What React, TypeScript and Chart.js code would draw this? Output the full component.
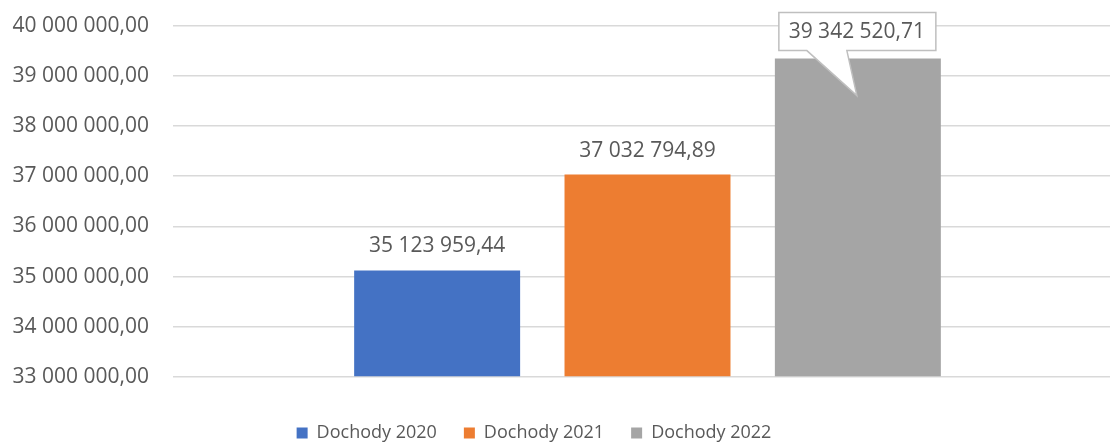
import React, { useEffect, useRef } from "react";
import { Chart, registerables } from "chart.js";

Chart.register(...registerables);

const categories = [""];
const seriesNames = ["Dochody 2020", "Dochody 2021", "Dochody 2022"];
const seriesValues = [35123959.44, 37032794.89, 39342520.71];
const seriesColors = ["#4472C4", "#ED7D31", "#A5A5A5"];
const yMin = 33000000;
const yMax = 40000000;
const yStep = 1000000;

const FONT = "'Open Sans', 'Noto Sans', sans-serif";
const TEXT = "#595959";

function fmt(v: number): string {
  const fixed = v.toFixed(2);
  const [intPart, dec] = fixed.split(".");
  const grouped = intPart.replace(/\B(?=(\d{3})+(?!\d))/g, " ");
  return grouped + "," + dec;
}

const labelPlugin = {
  id: "valueLabels",
  afterDatasetsDraw(chart: any) {
    const ctx = chart.ctx;
    ctx.save();
    ctx.font = `21px ${FONT}`;
    ctx.textAlign = "center";
    ctx.textBaseline = "middle";
    chart.data.datasets.forEach((ds: any, i: number) => {
      const meta = chart.getDatasetMeta(i);
      meta.data.forEach((bar: any, j: number) => {
        const v = ds.data[j];
        const text = fmt(v);
        const x = bar.x;
        const top = bar.y;
        if (i === 2) {
          const bl = x - 79, br = x + 78, bt = top - 46, bb = top - 8;
          ctx.beginPath();
          ctx.moveTo(bl, bt);
          ctx.lineTo(br, bt);
          ctx.lineTo(br, bb);
          ctx.lineTo(x - 11, bb);
          ctx.lineTo(x - 1, top + 37);
          ctx.lineTo(x - 51, bb);
          ctx.lineTo(bl, bb);
          ctx.closePath();
          ctx.fillStyle = "#ffffff";
          ctx.fill();
          ctx.strokeStyle = "#BFBFBF";
          ctx.lineWidth = 1.5;
          ctx.stroke();
          ctx.fillStyle = TEXT;
          ctx.fillText(text, x - 1, (bt + bb) / 2);
        } else {
          ctx.fillStyle = TEXT;
          ctx.fillText(text, x, top - 24);
        }
      });
    });
    ctx.restore();
  },
};

export default function App() {
  const ref = useRef<HTMLCanvasElement | null>(null);
  useEffect(() => {
    if (!ref.current) return;
    const chart = new Chart(ref.current, {
      type: "bar",
      data: {
        labels: categories,
        datasets: seriesNames.map((name, i) => ({
          label: name,
          data: [seriesValues[i]],
          backgroundColor: seriesColors[i],
          borderWidth: 0,
          barPercentage: 0.789,
          categoryPercentage: 0.665,
          base: yMin,
        })),
      },
      options: {
        responsive: false,
        animation: false,
        layout: { padding: { top: 14, left: 6, right: 8, bottom: 0 } },
        plugins: {
          tooltip: { enabled: false },
          legend: {
            position: "bottom",
            labels: {
              boxWidth: 11,
              boxHeight: 11,
              padding: 27,
              color: TEXT,
              font: { family: FONT, size: 18 },
            },
          },
        },
        scales: {
          x: {
            display: true,
            grid: { display: false },
            border: { display: false },
            ticks: { display: false },
            afterFit: (s: any) => {
              s.height = 20;
            },
          },
          y: {
            min: yMin,
            max: yMax,
            grid: { color: "#D9D9D9", lineWidth: 1.5, drawTicks: false },
            border: { display: false },
            ticks: {
              stepSize: yStep,
              padding: 24,
              color: TEXT,
              font: { family: FONT, size: 21 },
              callback: (v: any) => fmt(Number(v)),
            },
            afterFit: (s: any) => {
              s.width = 227;
            },
          },
        },
      },
      plugins: [labelPlugin],
    });
    return () => chart.destroy();
  }, []);
  return (
    <div
      style={{
        position: "absolute",
        left: 0,
        top: 0,
        width: 1110,
        height: 447,
        overflow: "hidden",
        background: "#ffffff",
      }}
    >
      <canvas
        ref={ref}
        width={1190}
        height={463}
        style={{ position: "absolute", left: -60, top: -11, width: 1190, height: 463 }}
      />
    </div>
  );
}
